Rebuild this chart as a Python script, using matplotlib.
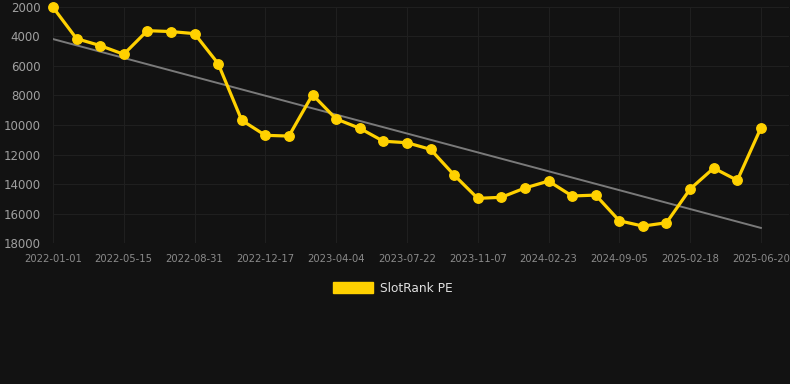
import numpy as np
import matplotlib.pyplot as plt
from matplotlib.patches import Patch

# SlotRank PE ranking over time (lower is better, axis inverted)
dates = ['2022-01-01', '2022-02-14', '2022-03-30', '2022-05-15', '2022-06-20', '2022-07-26',
         '2022-08-31', '2022-10-06', '2022-11-11', '2022-12-17', '2023-01-22', '2023-02-27',
         '2023-04-04', '2023-05-10', '2023-06-15', '2023-07-22', '2023-08-27', '2023-10-02',
         '2023-11-07', '2023-12-13', '2024-01-18', '2024-02-23', '2024-05-01', '2024-07-03',
         '2024-09-05', '2024-10-30', '2024-12-24', '2025-02-18', '2025-03-30', '2025-05-10',
         '2025-06-20']
ranks = [2020, 4150, 4620, 5210, 3610, 3670, 3810, 5840, 9680, 10700, 10750, 7950,
         9590, 10220, 11100, 11200, 11650, 13390, 14970, 14900, 14270, 13800, 14810,
         14750, 16490, 16850, 16620, 14340, 12920, 13750, 10200]
yticks = [2000, 4000, 6000, 8000, 10000, 12000, 14000, 16000, 18000]

bg = '#121212'
yellow = '#FFD100'

fig = plt.figure(figsize=(7.9, 3.84), dpi=100, facecolor=bg)
ax = fig.add_axes([0.067, 0.367, 0.932, 0.615], facecolor=bg)

x = np.arange(len(ranks))
coef = np.polyfit(x, ranks, 1)
ax.plot(x, np.polyval(coef, x), color='#7a7a7a', lw=1.4, zorder=2)
ax.plot(x, ranks, color=yellow, lw=2.3, marker='o', markersize=6.8, zorder=3, clip_on=False)

ax.set_ylim(18000, 2000)
ax.set_xlim(0, 31.2)
ax.set_yticks(yticks)
ax.set_yticklabels([str(v) for v in yticks])
ax.set_xticks(x[::3])
ax.set_xticklabels(dates[::3])
ax.tick_params(axis='y', colors='#a0a0a0', labelsize=8.5, length=0, pad=9)
ax.tick_params(axis='x', colors='#8a8a8a', labelsize=7.2, length=0, pad=8)
ax.grid(True, color='#1f1f1f', lw=0.8)
for s in ax.spines.values():
    s.set_visible(False)

fig.legend(handles=[Patch(color=yellow, label='SlotRank PE')], loc='upper center',
           bbox_to_anchor=(0.497, 0.295), frameon=False, handlelength=3.3, handleheight=1.0,
           handletextpad=0.6, fontsize=8.7, labelcolor='#e0e0e0')

fig.savefig('out.png', dpi=100, facecolor=bg)
